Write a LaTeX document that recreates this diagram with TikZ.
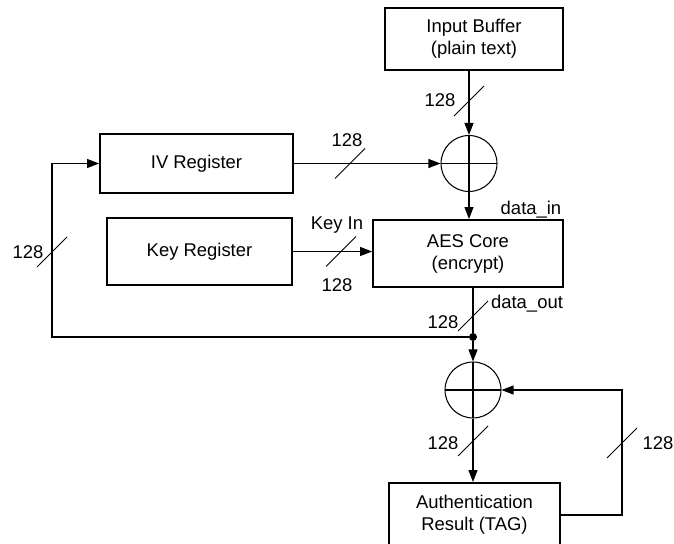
\documentclass[tikz,border=0pt]{standalone}
\usepackage{fontspec}
\setmainfont{Liberation Sans}
\usepackage{tikz}
\usetikzlibrary{arrows.meta, positioning, calc}

\newcommand{\busmark}[1]{\draw[tick] (#1) ++(-15,15) -- ++(30,-30);}

\begin{document}
\begin{tikzpicture}[
    x=0.02cm, y=-0.02cm,
    font=\fontsize{10.5}{12.5}\selectfont,
    block/.style={rectangle, draw=black, line width=1.1pt, align=center, inner sep=0pt},
    xorgate/.style={circle, draw=black, line width=0.6pt, minimum size=1.12cm, inner sep=0pt,
        path picture={\draw[line width=0.6pt] (path picture bounding box.north) -- (path picture bounding box.south)
            (path picture bounding box.west) -- (path picture bounding box.east);}},
    wire/.style={line width=0.6pt},
    arrow/.style={wire, -{Triangle[length=0.24cm, width=0.18cm]}},
    tick/.style={line width=0.6pt},
    dot/.style={circle, fill=black, inner sep=0pt, minimum size=0.16cm}
]
    \useasboundingbox (0,0) rectangle (674,544);

    \node[block, minimum width=3.56cm, minimum height=1.24cm] (inbuf) at (474,39) {Input Buffer\\(plain text)};
    \node[xorgate] (xor1) at (469,163.5) {};
    \node[block, minimum width=3.8cm, minimum height=1.34cm] (aes) at (468,253.5) {AES Core\\(encrypt)};
    \node[block, minimum width=3.86cm, minimum height=1.18cm] (iv) at (196.5,163.5) {IV Register};
    \node[block, minimum width=3.7cm, minimum height=1.34cm] (key) at (199.5,251.5) {Key Register};
    \node[dot] (split) at (473,337) {};
    \node[xorgate] (xor2) at (473,390) {};
    \node[block, minimum width=3.42cm, minimum height=1.28cm] (auth) at (474.5,515) {Authentication\\Result (TAG)};

    \coordinate (fbl) at (52,337);
    \coordinate (fbr) at (622,515);

    \draw[arrow] (inbuf.south -| xor1) -- (xor1.north);
    \draw[arrow] (iv.east) -- (xor1.west);
    \draw[arrow] (xor1.south) -- (xor1.south |- aes.north);
    \draw[arrow] (key.east) -- (key.east -| aes.west);
    \draw[wire] (aes.south -| split) -- (split);
    \draw[arrow] (split) -- (xor2.north);
    \draw[arrow] (split) -- (fbl) |- (iv.west);
    \draw[arrow] (xor2.south) -- (xor2.south |- auth.north);
    \draw[arrow] (auth.east) -- (fbr) |- (xor2.east);

    \busmark{469,101}
    \busmark{350,163.5}
    \busmark{341,251.5}
    \busmark{52,252}
    \busmark{473,316}
    \busmark{473,441}
    \busmark{622,443}

    \node (w1) at (440,100) {128};
    \node (w2) at (347,140) {128};
    \node (din) at (531,210) {data\_in};
    \node (kin) at (337,225) {Key In};
    \node (w3) at (337,285) {128};
    \node (w4) at (28,252) {128};
    \node (w5) at (443,322) {128};
    \node (dout) at (527,304) {data\_out};
    \node (w6) at (443,443) {128};
    \node (w7) at (658,443) {128};

\end{tikzpicture}
\end{document}
